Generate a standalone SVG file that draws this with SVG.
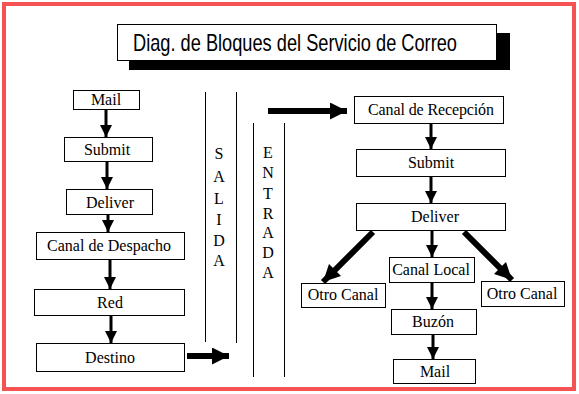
<svg xmlns="http://www.w3.org/2000/svg" width="579" height="394" viewBox="0 0 579 394">
<style>
.box{fill:#fff;stroke:#000;stroke-width:1}
.lbl{font-family:"Liberation Serif","Times New Roman",serif;font-size:16px;fill:#000;text-anchor:middle}
.col{font-family:"Liberation Serif","Times New Roman",serif;font-size:16px;fill:#000;text-anchor:middle}
.thin{stroke:#000;stroke-width:3;fill:none}
.thick{stroke:#000;stroke-width:6;fill:none}
.sep{stroke:#000;stroke-width:1;fill:none}
</style>
<defs>
<marker id="ah" markerUnits="userSpaceOnUse" markerWidth="12" markerHeight="12" viewBox="0 0 10 10" refX="10" refY="5" orient="auto">
<path d="M0,0 L10,5 L0,10 Z" fill="#000"/>
</marker>
<marker id="ahb" markerUnits="userSpaceOnUse" markerWidth="17" markerHeight="17" viewBox="0 0 10 10" refX="10" refY="5" orient="auto">
<path d="M0,0 L10,5 L0,10 Z" fill="#000"/>
</marker>
</defs>
<rect x="0" y="0" width="579" height="394" fill="#fff"/>
<rect x="4" y="4" width="570" height="385" fill="none" stroke="#f55353" stroke-width="4"/>

<g id="title">
<rect x="129" y="33" width="381" height="37" fill="#000"/>
<rect x="117.5" y="24.5" width="379" height="36" class="box"/>
<text x="133" y="51" font-family="'Liberation Sans',Arial,sans-serif" font-size="24" textLength="324" lengthAdjust="spacingAndGlyphs">Diag. de Bloques del Servicio de Correo</text>
</g>

<g id="separators">
<line class="sep" x1="205.5" y1="92" x2="205.5" y2="342"/>
<line class="sep" x1="236.5" y1="92" x2="236.5" y2="343"/>
<line class="sep" x1="253.5" y1="123" x2="253.5" y2="377"/>
<line class="sep" x1="284.5" y1="123" x2="284.5" y2="377"/>
</g>

<g id="salida">
<text class="col" x="219" y="159">S</text>
<text class="col" x="219" y="182">A</text>
<text class="col" x="219" y="204">L</text>
<text class="col" x="219" y="225">I</text>
<text class="col" x="219" y="246">D</text>
<text class="col" x="219" y="266">A</text>
</g>
<g id="entrada">
<text class="col" x="268" y="158">E</text>
<text class="col" x="268" y="178">N</text>
<text class="col" x="268" y="199">T</text>
<text class="col" x="268" y="219">R</text>
<text class="col" x="268" y="238">A</text>
<text class="col" x="268" y="258">D</text>
<text class="col" x="268" y="278">A</text>
</g>

<g id="connectors">
<line class="thin" x1="106" y1="109" x2="106" y2="137" marker-end="url(#ah)"/>
<line class="thin" x1="107" y1="161" x2="107" y2="189" marker-end="url(#ah)"/>
<line class="thin" x1="108" y1="214" x2="108" y2="232" marker-end="url(#ah)"/>
<line class="thin" x1="110" y1="259" x2="110" y2="289" marker-end="url(#ah)"/>
<line class="thin" x1="111" y1="315" x2="111" y2="343" marker-end="url(#ah)"/>
<line class="thick" x1="187" y1="356" x2="229" y2="356" marker-end="url(#ahb)"/>
<line class="thick" x1="268" y1="111" x2="347" y2="111" marker-end="url(#ahb)"/>
<line class="thin" x1="431" y1="123" x2="431" y2="149" marker-end="url(#ah)"/>
<line class="thin" x1="431" y1="176" x2="431" y2="203" marker-end="url(#ah)"/>
<line class="thin" x1="432" y1="230" x2="432" y2="257" marker-end="url(#ah)"/>
<line class="thin" x1="432" y1="282" x2="432" y2="309" marker-end="url(#ah)"/>
<line class="thin" x1="433" y1="334" x2="433" y2="359" marker-end="url(#ah)"/>
<line class="thick" x1="373" y1="232" x2="323" y2="282" marker-end="url(#ahb)"/>
<line class="thick" x1="464" y1="232" x2="512" y2="280" marker-end="url(#ahb)"/>
</g>

<g id="n-mail-out"><rect class="box" x="73.5" y="90.5" width="66" height="19"/><text class="lbl" x="106" y="105">Mail</text></g>
<g id="n-submit-out"><rect class="box" x="64.5" y="137.5" width="88" height="24"/><text class="lbl" x="107" y="155">Submit</text></g>
<g id="n-deliver-out"><rect class="box" x="66.5" y="189.5" width="86" height="25"/><text class="lbl" x="110" y="208">Deliver</text></g>
<g id="n-despacho"><rect class="box" x="36.5" y="232.5" width="148" height="27"/><text class="lbl" x="109" y="251" textLength="124" lengthAdjust="spacing">Canal de Despacho</text></g>
<g id="n-red"><rect class="box" x="34.5" y="289.5" width="150" height="26"/><text class="lbl" x="110" y="308">Red</text></g>
<g id="n-destino"><rect class="box" x="36.5" y="343.5" width="148" height="28"/><text class="lbl" x="110" y="363">Destino</text></g>

<g id="n-recepcion"><rect class="box" x="354.5" y="96.5" width="149" height="27"/><text class="lbl" x="431" y="115" textLength="126" lengthAdjust="spacing">Canal de Recepción</text></g>
<g id="n-submit-in"><rect class="box" x="356.5" y="149.5" width="149" height="27"/><text class="lbl" x="431" y="168">Submit</text></g>
<g id="n-deliver-in"><rect class="box" x="356.5" y="203.5" width="149" height="27"/><text class="lbl" x="435" y="222">Deliver</text></g>
<g id="n-local"><rect class="box" x="389.5" y="257.5" width="85" height="25"/><text class="lbl" x="431" y="275">Canal Local</text></g>
<g id="n-otro1"><rect class="box" x="301.5" y="283.5" width="84" height="24"/><text class="lbl" x="343" y="300">Otro Canal</text></g>
<g id="n-otro2"><rect class="box" x="481.5" y="281.5" width="83" height="25"/><text class="lbl" x="522" y="299">Otro Canal</text></g>
<g id="n-buzon"><rect class="box" x="391.5" y="309.5" width="85" height="25"/><text class="lbl" x="433" y="327">Buzón</text></g>
<g id="n-mail-in"><rect class="box" x="393.5" y="359.5" width="82" height="24"/><text class="lbl" x="435" y="377">Mail</text></g>
</svg>
